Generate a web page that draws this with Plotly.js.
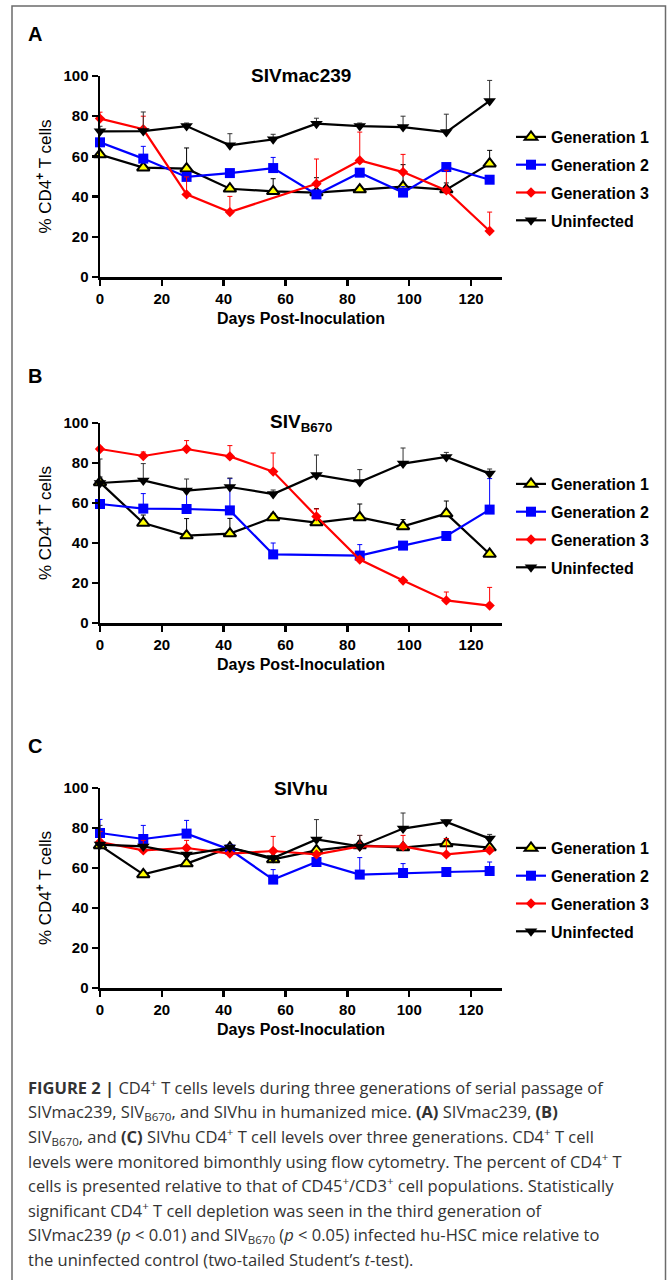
<!DOCTYPE html>
<html><head><meta charset="utf-8">
<script src="https://cdn.plot.ly/plotly-3.0.1.min.js"></script>
<style>html,body{margin:0;padding:0;background:#fff;} #chart{width:667px;height:1280px;}</style>
</head><body><div id="chart"></div>
<script>
// ---------- data ----------
const days = [0, 14, 28, 42, 56, 70, 84, 98, 112, 126];
const daysMissing56 = [0, 14, 28, 42, 70, 84, 98, 112, 126];
const daysMissing70 = [0, 14, 28, 42, 56, 84, 98, 112, 126];
const seriesNames = ['Generation 1', 'Generation 2', 'Generation 3', 'Uninfected'];
const xTickVals = [0, 20, 40, 60, 80, 100, 120];
const yTickVals = [0, 20, 40, 60, 80, 100];
const panelTitles = ['SIVmac239', 'SIV<sub>B670</sub>', 'SIVhu'];
const panelLetters = ['A', 'B', 'C'];

// Panel A: SIVmac239 (mean % CD4+ T cells, upward error)
const A_g1 = [60.9, 54.4, 53.9, 43.9, 42.6, 42.0, 43.5, 45.0, 43.5, 56.4];
const A_g1_err = [1, 1, 10.3, 1, 6.3, 7.4, 1, 10.9, 3.3, 6.6];
const A_g2 = [67.0, 58.9, 49.8, 51.7, 54.2, 41.1, 51.9, 42.0, 54.7, 48.4];
const A_g2_err = [1.5, 6.1, 1, 1, 5.3, 1, 1, 3, 1, 1];
const A_g3 = [78.8, 73.5, 41.1, 32.3, 46.4, 58.0, 52.2, 43.1, 22.9];
const A_g3_err = [3.2, 6.5, 8.7, 7.8, 12.3, 14.1, 8.8, 10, 9.4];
const A_un = [72.5, 72.6, 75.1, 65.5, 68.5, 76.3, 75.1, 74.6, 72.1, 87.6];
const A_un_err = [2.5, 9.5, 1.5, 5.8, 2.5, 2.7, 1.5, 5.4, 8.9, 10.2];

// Panel B: SIV B670
const B_g1 = [70.3, 50.0, 43.7, 44.7, 52.8, 50.2, 52.8, 48.3, 54.7, 34.5];
const B_g1_err = [2.7, 4, 8.5, 7.6, 2, 7, 6.7, 3.4, 6.3, 0.5];
const B_g2 = [59.5, 57.2, 57.0, 56.3, 34.3, 33.7, 38.7, 43.5, 56.7];
const B_g2_err = [1, 7.5, 9.7, 15.9, 5.7, 5.5, 0.5, 0.5, 15.5];
const B_g3 = [87.0, 83.5, 87.0, 83.3, 75.7, 53.3, 31.7, 21.2, 11.3, 8.7];
const B_g3_err = [1, 2, 4.2, 5.4, 9.3, 3.7, 0.5, 0.5, 4.2, 9.1];
const B_un = [70.0, 71.3, 66.2, 68.0, 64.5, 74.0, 70.5, 79.7, 83.0, 74.7];
const B_un_err = [12, 8.4, 5.8, 4.5, 2, 10, 6.2, 7.8, 2.3, 2.3];

// Panel C: SIVhu
const C_g1 = [71.3, 56.8, 62.2, 70.2, 64.3, 68.8, 71.3, 70.2, 72.2, 70.2];
const C_g1_err = [1, 1, 1, 1, 1, 1, 1, 1, 2.5, 1];
const C_g2 = [77.5, 74.5, 77.2, 69.2, 54.2, 63.0, 56.7, 57.5, 58.0, 58.5];
const C_g2_err = [6.8, 6.8, 6.6, 1, 5, 1, 8.5, 4.7, 1, 4.5];
const C_g3 = [73.0, 68.8, 70.0, 67.2, 68.5, 66.8, 70.8, 70.8, 66.8, 68.8];
const C_g3_err = [5.3, 5, 3.8, 1, 7.3, 1, 5.5, 5.5, 7.9, 1];
const C_un = [71.7, 70.8, 66.7, 70.2, 65.0, 74.3, 70.8, 79.7, 83.0, 74.7];
const C_un_err = [9.6, 1, 1, 1, 1, 9.9, 5.5, 7.8, 1, 2.1];

const captionLines = [
  '<b>FIGURE 2 |</b> CD4<sup>+</sup> T cells levels during three generations of serial passage of',
  'SIVmac239, SIV<sub>B670</sub>, and SIVhu in humanized mice. <b>(A)</b> SIVmac239, <b>(B)</b>',
  'SIV<sub>B670</sub>, and <b>(C)</b> SIVhu CD4<sup>+</sup> T cell levels over three generations. CD4<sup>+</sup> T cell',
  'levels were monitored bimonthly using flow cytometry. The percent of CD4<sup>+</sup> T',
  'cells is presented relative to that of CD45<sup>+</sup>/CD3<sup>+</sup> cell populations. Statistically',
  'significant CD4<sup>+</sup> T cell depletion was seen in the third generation of',
  'SIVmac239 (<i>p</i> < 0.01) and SIV<sub>B670</sub> (<i>p</i> < 0.05) infected hu-HSC mice relative to',
  'the uninfected control (two-tailed Student\u2019s <i>t</i>-test).'
];

// ---------- layout helpers ----------
const W = 667, H = 1280;
const px = x => x / W;
const py = y => 1 - y / H;
const FONT = 'Liberation Sans, Arial, sans-serif';
const CAPFONT = 'Open Sans, Liberation Sans, sans-serif';

const panels = [
  {g1: [days, A_g1, A_g1_err], g2: [days, A_g2, A_g2_err], g3: [daysMissing56, A_g3, A_g3_err], un: [days, A_un, A_un_err], top: 76, bot: 277, legTop: 134, letterY: 34},
  {g1: [days, B_g1, B_g1_err], g2: [daysMissing70, B_g2, B_g2_err], g3: [days, B_g3, B_g3_err], un: [days, B_un, B_un_err], top: 423, bot: 623, legTop: 481, letterY: 376},
  {g1: [days, C_g1, C_g1_err], g2: [days, C_g2, C_g2_err], g3: [days, C_g3, C_g3_err], un: [days, C_un, C_un_err], top: 788, bot: 988, legTop: 845, letterY: 746}
];

const styles = {
  g1: {color: '#000000', marker: {symbol: 'triangle-up', size: 11, color: '#ffff00', line: {color: '#000000', width: 2}}},
  g2: {color: '#0000ff', marker: {symbol: 'square', size: 10, color: '#0000ff', line: {width: 0}}},
  g3: {color: '#ff0000', marker: {symbol: 'diamond', size: 8, color: '#ff0000', line: {width: 0}}},
  un: {color: '#000000', marker: {symbol: 'triangle-down', size: 11, color: '#000000', line: {width: 0}}}
};
const keys = ['g1', 'g2', 'g3', 'un'];

const traces = [];
const layout = {
  width: W, height: H,
  margin: {l: 0, r: 0, t: 0, b: 0},
  paper_bgcolor: '#ffffff', plot_bgcolor: 'rgba(0,0,0,0)',
  font: {family: FONT, color: '#000000'},
  annotations: [], shapes: []
};

panels.forEach((p, i) => {
  const n = i === 0 ? '' : String(i + 1);
  const legName = 'legend' + n;
  keys.forEach((k, j) => {
    const [xs, ys, es] = p[k];
    const st = styles[k];
    traces.push({
      type: 'scatter', mode: 'lines+markers',
      x: xs, y: ys, name: seriesNames[j],
      xaxis: 'x' + n, yaxis: 'y' + n,
      legend: legName, legendgroup: 'p' + i + k,
      line: {color: st.color, width: 2.2},
      marker: st.marker,
      cliponaxis: false,
      error_y: {type: 'data', symmetric: false, array: es, arrayminus: es.map(() => 0),
                color: k === 'un' ? '#333333' : st.color, thickness: 1, width: 2.5}
    });
  });
  layout['xaxis' + n] = {
    domain: [px(100), px(502)], range: [0, 130], anchor: 'y' + n,
    tickvals: xTickVals, ticks: 'outside', ticklen: 6, tickwidth: 2.5, tickcolor: '#000',
    showline: true, linewidth: 2.5, linecolor: '#000', showgrid: false, zeroline: false,
    tickfont: {family: FONT, size: 15, weight: 'bold', color: '#000'},
    title: {text: 'Days Post-Inoculation', font: {family: FONT, size: 16, weight: 'bold', color: '#000'}, standoff: 8},
    fixedrange: true
  };
  layout['yaxis' + n] = {
    domain: [py(p.bot), py(p.top)], range: [0, 100], anchor: 'x' + n,
    tickvals: yTickVals, ticks: 'outside', ticklen: 6, tickwidth: 2.5, tickcolor: '#000',
    showline: true, linewidth: 2.5, linecolor: '#000', showgrid: false, zeroline: false,
    tickfont: {family: FONT, size: 15, weight: 'bold', color: '#000'},
    title: {text: '% CD4<sup><b>+</b></sup> T cells', font: {family: FONT, size: 17, color: '#000'}, standoff: 8},
    fixedrange: true
  };
  layout[legName] = {
    x: px(511), y: py(p.legTop - 14), xanchor: 'left', yanchor: 'top',
    bgcolor: 'rgba(0,0,0,0)', borderwidth: 0,
    font: {family: FONT, size: 16, weight: 'bold', color: '#000'},
    traceorder: 'grouped', tracegroupgap: 4, itemwidth: 30
  };
  layout.annotations.push({
    xref: 'paper', yref: 'paper', x: px(301), y: py(p.top), xanchor: 'center', yanchor: 'middle',
    text: '<b>' + panelTitles[i] + '</b>', showarrow: false,
    font: {family: FONT, size: 19, color: '#000'}
  });
  layout.annotations.push({
    xref: 'paper', yref: 'paper', x: px(26), y: py(p.letterY), xanchor: 'left', yanchor: 'middle',
    text: '<b>' + panelLetters[i] + '</b>', showarrow: false,
    font: {family: FONT, size: 20, color: '#000'}
  });
});

captionLines.forEach((t, i) => {
  layout.annotations.push({
    xref: 'paper', yref: 'paper', x: px(26), y: py(1087 + i * 24.6), xanchor: 'left', yanchor: 'middle',
    text: t, showarrow: false, align: 'left',
    font: {family: CAPFONT, size: 16.5, color: '#333333'}
  });
});

// figure frame
layout.shapes.push({
  type: 'rect', xref: 'paper', yref: 'paper', x0: px(12), x1: px(665.5), y0: -0.01, y1: py(6),
  line: {color: '#6b6b6b', width: 1.5}, fillcolor: 'rgba(0,0,0,0)', layer: 'below'
});

Plotly.newPlot('chart', traces, layout, {displayModeBar: false, staticPlot: true});
</script></body></html>
